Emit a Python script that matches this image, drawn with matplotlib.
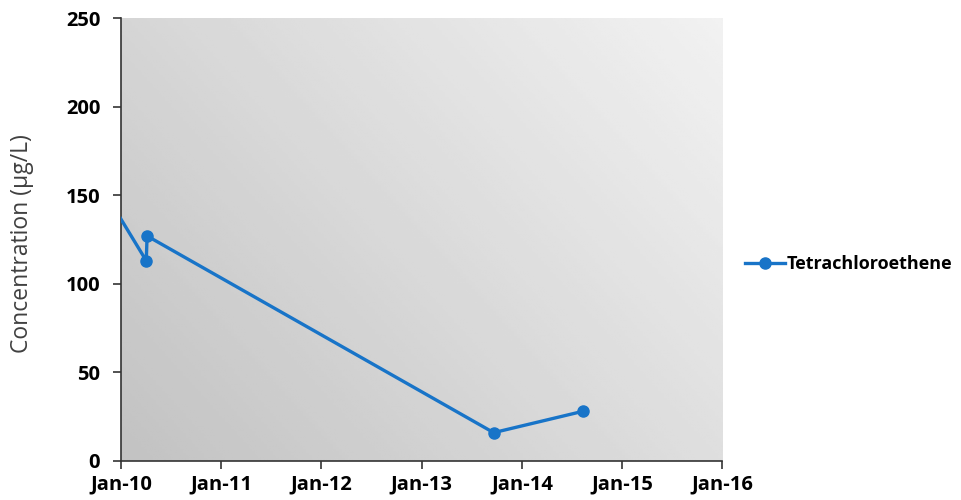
import numpy as np
import pandas as pd
import matplotlib
matplotlib.use('Agg')
import matplotlib.pyplot as plt
import matplotlib.dates as mdates

# sample dates and PCE concentrations
dates = pd.to_datetime(['2009-11-01', '2010-04-03', '2010-04-06', '2013-09-20', '2014-08-10'])
pce = [152, 113, 127, 16, 28]

x_ticks = pd.to_datetime(['2010-01-01', '2011-01-01', '2012-01-01', '2013-01-01',
                          '2014-01-01', '2015-01-01', '2016-01-01'])
y_ticks = [0, 50, 100, 150, 200, 250]

plt.rcParams['font.family'] = ['Open Sans', 'DejaVu Sans']

fig = plt.figure(figsize=(9.62, 5.0), dpi=100)
ax = fig.add_axes([0.1258, 0.078, 0.625, 0.886])

# gray gradient fill behind the plot area (darker bottom-left)
gx, gy = np.meshgrid(np.linspace(0, 1, 200), np.linspace(0, 1, 200))
shade = 0.72 + 0.22 * (0.6 * gx + 0.4 * gy)
ax.imshow(shade, cmap='gray', vmin=0, vmax=1, origin='lower', extent=[0, 1, 0, 1],
          transform=ax.transAxes, aspect='auto', zorder=0, alpha=0.85)

ax.plot(dates, pce, color='#1874c8', lw=2.4, marker='o', ms=8, label='Tetrachloroethene',
        zorder=3, clip_on=True)

ax.set_xlim(x_ticks[0], x_ticks[-1])
ax.set_ylim(0, 250)
ax.set_xticks(x_ticks)
ax.xaxis.set_major_formatter(mdates.DateFormatter('%b-%y'))
ax.set_yticks(y_ticks)

for s in ['top', 'right']:
    ax.spines[s].set_visible(False)
for s in ['left', 'bottom']:
    ax.spines[s].set_color('#333333')
    ax.spines[s].set_linewidth(1.2)
ax.tick_params(direction='out', length=6, width=1.2, color='#333333', labelsize=14.5, pad=4)
ax.tick_params(axis='y', pad=9)
for lab in ax.get_xticklabels() + ax.get_yticklabels():
    lab.set_fontweight('bold')

fig.text(22 / 962, 1 - 244 / 500, 'Concentration (µg/L)', rotation=90, ha='center',
         va='center', fontsize=16.5, color='#404040')

ax.legend(loc='center left', bbox_to_anchor=(1.038, 0.445), frameon=False,
          borderaxespad=0, borderpad=0,
          prop={'weight': 'bold', 'size': 13}, handlelength=2.2, handletextpad=0.1)

fig.savefig('out.png', dpi=100)
